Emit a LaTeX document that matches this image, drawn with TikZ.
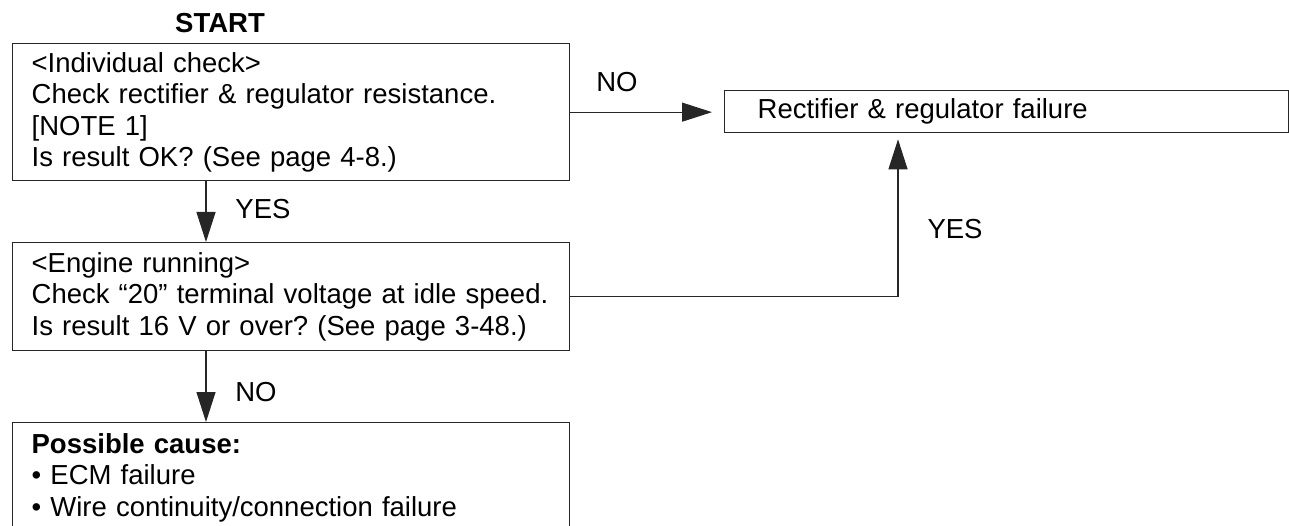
\documentclass[tikz,border=0pt]{standalone}
\usepackage{fontspec}
\setmainfont{Liberation Sans}
\usepackage{tikz}
\usetikzlibrary{arrows.meta}
\frenchspacing

\begin{document}
\begin{tikzpicture}[x=1pt,y=-1pt,>={Triangle[length=30pt,width=19pt]},
		box/.style={draw=black!85,line width=1.3pt,anchor=north west,align=left,inner xsep=19pt,inner ysep=0pt,font=\fs},
		lbl/.style={inner sep=0pt,font=\fs},
		flow/.style={->,line width=1.2pt,draw=black!85}]
	\def\fs{\fontsize{27.5}{31.5}\selectfont}
	\useasboundingbox (0,0) rectangle (1289,526);
	\clip (0,0) rectangle (1289,526);
	
	% boxes, pixel coordinates of the sheet
	\node[lbl,font=\fs\bfseries] (start) at (220,23) {START};
	\node[box,text width=519pt,minimum height=137pt] (check1) at (12,43)
	{<Individual check>\\Check rectifier \& regulator resistance.\\{}[NOTE 1]\\Is result OK? (See page 4-8.)};
	\node[box,text width=498pt,inner xsep=33pt,minimum height=42pt] (fail1) at (724,90)
	{Rectifier \& regulator failure};
	\node[box,text width=519pt,minimum height=108pt] (check2) at (12,242)
	{<Engine running>\\Check “20” terminal voltage at idle speed.\\Is result 16 V or over? (See page 3-48.)};
	\node[box,text width=519pt,minimum height=110pt] (cause) at (12,422)
	{\textbf{Possible cause:}\\• ECM failure\\• Wire continuity/connection failure};
	
	\coordinate (flowx) at (206,0);
	\coordinate (yesx) at (898,0);
	
	% connectors
	\draw[flow,shorten >=12pt] (check1.east) -- (check1.east -| fail1.west);
	\draw[flow] (check1.south -| flowx) -- (check2.north -| flowx);
	\draw[flow] (check2.south -| flowx) -- (cause.north -| flowx);
	\draw[flow,shorten >=6pt] (check2.east) -| (fail1.south -| yesx);
	
	\node[lbl] (no1) at (617,82) {NO};
	\node[lbl] (yes1) at (263,209) {YES};
	\node[lbl] (yes2) at (955,229) {YES};
	\node[lbl] (no2) at (256,392) {NO};
\end{tikzpicture}
\end{document}
